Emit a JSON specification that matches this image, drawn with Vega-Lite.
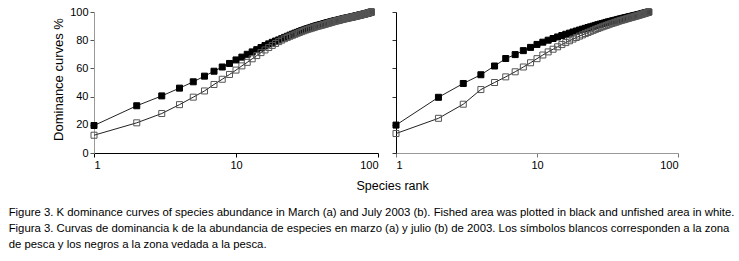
{
  "$schema": "https://vega.github.io/schema/vega-lite/v6.json",
  "background": "white",
  "padding": {"left": 8, "top": 6, "right": 5, "bottom": 5},
  "datasets": {
    "a": [
      {"area":"Fished","rank":1,"pct":19.5},{"area":"Fished","rank":2,"pct":33.5},{"area":"Fished","rank":3,"pct":40.5},{"area":"Fished","rank":4,"pct":46},{"area":"Fished","rank":5,"pct":50.5},{"area":"Fished","rank":6,"pct":54.5},{"area":"Fished","rank":7,"pct":58},{"area":"Fished","rank":8,"pct":61},{"area":"Fished","rank":9,"pct":63.5},{"area":"Fished","rank":10,"pct":66},
      {"area":"Fished","rank":11,"pct":68},{"area":"Fished","rank":12,"pct":70},{"area":"Fished","rank":13,"pct":71.7},{"area":"Fished","rank":14,"pct":73.3},{"area":"Fished","rank":15,"pct":74.8},{"area":"Fished","rank":16,"pct":76.2},{"area":"Fished","rank":17,"pct":77.4},{"area":"Fished","rank":18,"pct":78.5},{"area":"Fished","rank":19,"pct":79.4},{"area":"Fished","rank":20,"pct":80.2},
      {"area":"Fished","rank":21,"pct":81.1},{"area":"Fished","rank":22,"pct":82.0},{"area":"Fished","rank":23,"pct":82.8},{"area":"Fished","rank":24,"pct":83.6},{"area":"Fished","rank":25,"pct":84.3},{"area":"Fished","rank":26,"pct":85.0},{"area":"Fished","rank":27,"pct":85.6},{"area":"Fished","rank":28,"pct":86.2},{"area":"Fished","rank":29,"pct":86.8},{"area":"Fished","rank":30,"pct":87.3},
      {"area":"Fished","rank":31,"pct":87.8},{"area":"Fished","rank":32,"pct":88.3},{"area":"Fished","rank":33,"pct":88.7},{"area":"Fished","rank":34,"pct":89.1},{"area":"Fished","rank":35,"pct":89.5},{"area":"Fished","rank":36,"pct":89.9},{"area":"Fished","rank":37,"pct":90.3},{"area":"Fished","rank":38,"pct":90.6},{"area":"Fished","rank":39,"pct":90.9},{"area":"Fished","rank":40,"pct":91.2},
      {"area":"Fished","rank":41,"pct":91.5},{"area":"Fished","rank":42,"pct":91.8},{"area":"Fished","rank":43,"pct":92.1},{"area":"Fished","rank":44,"pct":92.4},{"area":"Fished","rank":45,"pct":92.6},{"area":"Fished","rank":46,"pct":92.9},{"area":"Fished","rank":47,"pct":93.1},{"area":"Fished","rank":48,"pct":93.4},{"area":"Fished","rank":49,"pct":93.6},{"area":"Fished","rank":50,"pct":93.8},
      {"area":"Fished","rank":51,"pct":94.0},{"area":"Fished","rank":52,"pct":94.2},{"area":"Fished","rank":53,"pct":94.4},{"area":"Fished","rank":54,"pct":94.6},{"area":"Fished","rank":55,"pct":94.8},{"area":"Fished","rank":56,"pct":95.0},{"area":"Fished","rank":57,"pct":95.2},{"area":"Fished","rank":58,"pct":95.4},{"area":"Fished","rank":59,"pct":95.55},{"area":"Fished","rank":60,"pct":95.7},
      {"area":"Fished","rank":61,"pct":95.85},{"area":"Fished","rank":62,"pct":96.0},{"area":"Fished","rank":63,"pct":96.15},{"area":"Fished","rank":64,"pct":96.3},{"area":"Fished","rank":65,"pct":96.45},{"area":"Fished","rank":66,"pct":96.6},{"area":"Fished","rank":67,"pct":96.75},{"area":"Fished","rank":68,"pct":96.9},{"area":"Fished","rank":69,"pct":97.05},{"area":"Fished","rank":70,"pct":97.2},
      {"area":"Fished","rank":71,"pct":97.35},{"area":"Fished","rank":72,"pct":97.5},{"area":"Fished","rank":73,"pct":97.65},{"area":"Fished","rank":74,"pct":97.8},{"area":"Fished","rank":75,"pct":97.9},{"area":"Fished","rank":76,"pct":98.05},{"area":"Fished","rank":77,"pct":98.2},{"area":"Fished","rank":78,"pct":98.3},{"area":"Fished","rank":79,"pct":98.45},{"area":"Fished","rank":80,"pct":98.6},
      {"area":"Fished","rank":81,"pct":98.7},{"area":"Fished","rank":82,"pct":98.85},{"area":"Fished","rank":83,"pct":99.0},{"area":"Fished","rank":84,"pct":99.1},{"area":"Fished","rank":85,"pct":99.25},{"area":"Fished","rank":86,"pct":99.4},{"area":"Fished","rank":87,"pct":99.55},{"area":"Fished","rank":88,"pct":99.7},{"area":"Fished","rank":89,"pct":99.85},{"area":"Fished","rank":90,"pct":100},
      {"area":"Unfished","rank":1,"pct":12.6},{"area":"Unfished","rank":2,"pct":21.4},{"area":"Unfished","rank":3,"pct":28},{"area":"Unfished","rank":4,"pct":34.3},{"area":"Unfished","rank":5,"pct":39.6},{"area":"Unfished","rank":6,"pct":44},{"area":"Unfished","rank":7,"pct":48.6},{"area":"Unfished","rank":8,"pct":52.3},{"area":"Unfished","rank":9,"pct":55.7},{"area":"Unfished","rank":10,"pct":58.8},
      {"area":"Unfished","rank":11,"pct":61.8},{"area":"Unfished","rank":12,"pct":64.3},{"area":"Unfished","rank":13,"pct":66.8},{"area":"Unfished","rank":14,"pct":69.1},{"area":"Unfished","rank":15,"pct":71.2},{"area":"Unfished","rank":16,"pct":73.1},{"area":"Unfished","rank":17,"pct":74.8},{"area":"Unfished","rank":18,"pct":76.3},{"area":"Unfished","rank":19,"pct":77.7},{"area":"Unfished","rank":20,"pct":79.0},
      {"area":"Unfished","rank":21,"pct":80.1},{"area":"Unfished","rank":22,"pct":81.1},{"area":"Unfished","rank":23,"pct":82.0},{"area":"Unfished","rank":24,"pct":82.8},{"area":"Unfished","rank":25,"pct":83.5},{"area":"Unfished","rank":26,"pct":84.2},{"area":"Unfished","rank":27,"pct":84.9},{"area":"Unfished","rank":28,"pct":85.5},{"area":"Unfished","rank":29,"pct":86.1},{"area":"Unfished","rank":30,"pct":86.7},
      {"area":"Unfished","rank":31,"pct":87.2},{"area":"Unfished","rank":32,"pct":87.7},{"area":"Unfished","rank":33,"pct":88.1},{"area":"Unfished","rank":34,"pct":88.5},{"area":"Unfished","rank":35,"pct":88.9},{"area":"Unfished","rank":36,"pct":89.3},{"area":"Unfished","rank":37,"pct":89.7},{"area":"Unfished","rank":38,"pct":90.0},{"area":"Unfished","rank":39,"pct":90.3},{"area":"Unfished","rank":40,"pct":90.6},
      {"area":"Unfished","rank":41,"pct":90.9},{"area":"Unfished","rank":42,"pct":91.2},{"area":"Unfished","rank":43,"pct":91.5},{"area":"Unfished","rank":44,"pct":91.8},{"area":"Unfished","rank":45,"pct":92.1},{"area":"Unfished","rank":46,"pct":92.4},{"area":"Unfished","rank":47,"pct":92.7},{"area":"Unfished","rank":48,"pct":93.0},{"area":"Unfished","rank":49,"pct":93.2},{"area":"Unfished","rank":50,"pct":93.5},
      {"area":"Unfished","rank":51,"pct":93.7},{"area":"Unfished","rank":52,"pct":93.9},{"area":"Unfished","rank":53,"pct":94.1},{"area":"Unfished","rank":54,"pct":94.35},{"area":"Unfished","rank":55,"pct":94.55},{"area":"Unfished","rank":56,"pct":94.75},{"area":"Unfished","rank":57,"pct":94.95},{"area":"Unfished","rank":58,"pct":95.15},{"area":"Unfished","rank":59,"pct":95.3},{"area":"Unfished","rank":60,"pct":95.5},
      {"area":"Unfished","rank":61,"pct":95.65},{"area":"Unfished","rank":62,"pct":95.8},{"area":"Unfished","rank":63,"pct":95.95},{"area":"Unfished","rank":64,"pct":96.1},{"area":"Unfished","rank":65,"pct":96.25},{"area":"Unfished","rank":66,"pct":96.4},{"area":"Unfished","rank":67,"pct":96.55},{"area":"Unfished","rank":68,"pct":96.7},{"area":"Unfished","rank":69,"pct":96.85},{"area":"Unfished","rank":70,"pct":97.0},
      {"area":"Unfished","rank":71,"pct":97.15},{"area":"Unfished","rank":72,"pct":97.3},{"area":"Unfished","rank":73,"pct":97.45},{"area":"Unfished","rank":74,"pct":97.6},{"area":"Unfished","rank":75,"pct":97.75},{"area":"Unfished","rank":76,"pct":97.9},{"area":"Unfished","rank":77,"pct":98.05},{"area":"Unfished","rank":78,"pct":98.2},{"area":"Unfished","rank":79,"pct":98.35},{"area":"Unfished","rank":80,"pct":98.5},
      {"area":"Unfished","rank":81,"pct":98.65},{"area":"Unfished","rank":82,"pct":98.8},{"area":"Unfished","rank":83,"pct":98.95},{"area":"Unfished","rank":84,"pct":99.1},{"area":"Unfished","rank":85,"pct":99.25},{"area":"Unfished","rank":86,"pct":99.4},{"area":"Unfished","rank":87,"pct":99.55},{"area":"Unfished","rank":88,"pct":99.7},{"area":"Unfished","rank":89,"pct":99.85},{"area":"Unfished","rank":90,"pct":100}
    ],
    "b": [
      {"area":"Fished","rank":1,"pct":19.8},{"area":"Fished","rank":2,"pct":39.5},{"area":"Fished","rank":3,"pct":49.3},{"area":"Fished","rank":4,"pct":55.5},{"area":"Fished","rank":5,"pct":61.7},{"area":"Fished","rank":6,"pct":67},{"area":"Fished","rank":7,"pct":69.8},{"area":"Fished","rank":8,"pct":72.6},{"area":"Fished","rank":9,"pct":74.9},{"area":"Fished","rank":10,"pct":77},
      {"area":"Fished","rank":11,"pct":78.6},{"area":"Fished","rank":12,"pct":80.0},{"area":"Fished","rank":13,"pct":81.2},{"area":"Fished","rank":14,"pct":82.3},{"area":"Fished","rank":15,"pct":83.3},{"area":"Fished","rank":16,"pct":84.2},{"area":"Fished","rank":17,"pct":85.0},{"area":"Fished","rank":18,"pct":85.8},{"area":"Fished","rank":19,"pct":86.5},{"area":"Fished","rank":20,"pct":87.2},
      {"area":"Fished","rank":21,"pct":87.8},{"area":"Fished","rank":22,"pct":88.4},{"area":"Fished","rank":23,"pct":89.0},{"area":"Fished","rank":24,"pct":89.5},{"area":"Fished","rank":25,"pct":90.0},{"area":"Fished","rank":26,"pct":90.5},{"area":"Fished","rank":27,"pct":91.0},{"area":"Fished","rank":28,"pct":91.4},{"area":"Fished","rank":29,"pct":91.8},{"area":"Fished","rank":30,"pct":92.2},
      {"area":"Fished","rank":31,"pct":92.6},{"area":"Fished","rank":32,"pct":93.0},{"area":"Fished","rank":33,"pct":93.3},{"area":"Fished","rank":34,"pct":93.6},{"area":"Fished","rank":35,"pct":93.9},{"area":"Fished","rank":36,"pct":94.2},{"area":"Fished","rank":37,"pct":94.5},{"area":"Fished","rank":38,"pct":94.8},{"area":"Fished","rank":39,"pct":95.1},{"area":"Fished","rank":40,"pct":95.4},
      {"area":"Fished","rank":41,"pct":95.6},{"area":"Fished","rank":42,"pct":95.9},{"area":"Fished","rank":43,"pct":96.1},{"area":"Fished","rank":44,"pct":96.35},{"area":"Fished","rank":45,"pct":96.6},{"area":"Fished","rank":46,"pct":96.8},{"area":"Fished","rank":47,"pct":97.0},{"area":"Fished","rank":48,"pct":97.25},{"area":"Fished","rank":49,"pct":97.45},{"area":"Fished","rank":50,"pct":97.65},
      {"area":"Fished","rank":51,"pct":97.85},{"area":"Fished","rank":52,"pct":98.05},{"area":"Fished","rank":53,"pct":98.25},{"area":"Fished","rank":54,"pct":98.45},{"area":"Fished","rank":55,"pct":98.65},{"area":"Fished","rank":56,"pct":98.85},{"area":"Fished","rank":57,"pct":99.1},{"area":"Fished","rank":58,"pct":99.3},{"area":"Fished","rank":59,"pct":99.5},{"area":"Fished","rank":60,"pct":99.65},
      {"area":"Fished","rank":61,"pct":99.85},{"area":"Fished","rank":62,"pct":100},
      {"area":"Unfished","rank":1,"pct":13.8},{"area":"Unfished","rank":2,"pct":24.6},{"area":"Unfished","rank":3,"pct":34.6},{"area":"Unfished","rank":4,"pct":45},{"area":"Unfished","rank":5,"pct":50},{"area":"Unfished","rank":6,"pct":54},{"area":"Unfished","rank":7,"pct":57.6},{"area":"Unfished","rank":8,"pct":61},{"area":"Unfished","rank":9,"pct":64},{"area":"Unfished","rank":10,"pct":66.9},
      {"area":"Unfished","rank":11,"pct":69.5},{"area":"Unfished","rank":12,"pct":71.7},{"area":"Unfished","rank":13,"pct":73.6},{"area":"Unfished","rank":14,"pct":75.3},{"area":"Unfished","rank":15,"pct":76.9},{"area":"Unfished","rank":16,"pct":78.3},{"area":"Unfished","rank":17,"pct":79.6},{"area":"Unfished","rank":18,"pct":80.8},{"area":"Unfished","rank":19,"pct":81.9},{"area":"Unfished","rank":20,"pct":82.9},
      {"area":"Unfished","rank":21,"pct":83.8},{"area":"Unfished","rank":22,"pct":84.7},{"area":"Unfished","rank":23,"pct":85.5},{"area":"Unfished","rank":24,"pct":86.3},{"area":"Unfished","rank":25,"pct":87.0},{"area":"Unfished","rank":26,"pct":87.7},{"area":"Unfished","rank":27,"pct":88.3},{"area":"Unfished","rank":28,"pct":88.9},{"area":"Unfished","rank":29,"pct":89.5},{"area":"Unfished","rank":30,"pct":90.0},
      {"area":"Unfished","rank":31,"pct":90.5},{"area":"Unfished","rank":32,"pct":91.0},{"area":"Unfished","rank":33,"pct":91.5},{"area":"Unfished","rank":34,"pct":91.9},{"area":"Unfished","rank":35,"pct":92.3},{"area":"Unfished","rank":36,"pct":92.7},{"area":"Unfished","rank":37,"pct":93.1},{"area":"Unfished","rank":38,"pct":93.5},{"area":"Unfished","rank":39,"pct":93.9},{"area":"Unfished","rank":40,"pct":94.2},
      {"area":"Unfished","rank":41,"pct":94.5},{"area":"Unfished","rank":42,"pct":94.8},{"area":"Unfished","rank":43,"pct":95.1},{"area":"Unfished","rank":44,"pct":95.4},{"area":"Unfished","rank":45,"pct":95.7},{"area":"Unfished","rank":46,"pct":96.0},{"area":"Unfished","rank":47,"pct":96.25},{"area":"Unfished","rank":48,"pct":96.5},{"area":"Unfished","rank":49,"pct":96.75},{"area":"Unfished","rank":50,"pct":97.0},
      {"area":"Unfished","rank":51,"pct":97.25},{"area":"Unfished","rank":52,"pct":97.5},{"area":"Unfished","rank":53,"pct":97.75},{"area":"Unfished","rank":54,"pct":98.0},{"area":"Unfished","rank":55,"pct":98.25},{"area":"Unfished","rank":56,"pct":98.5},{"area":"Unfished","rank":57,"pct":98.75},{"area":"Unfished","rank":58,"pct":99.0},{"area":"Unfished","rank":59,"pct":99.25},{"area":"Unfished","rank":60,"pct":99.5},
      {"area":"Unfished","rank":61,"pct":99.75},{"area":"Unfished","rank":62,"pct":100}
    ]
  },
  "title": {
    "text": [
      "Figure 3. K dominance curves of species abundance in March (a) and July 2003 (b). Fished area was plotted in black and unfished area in white.",
      "Figura 3. Curvas de dominancia k de la abundancia de especies en marzo (a) y julio (b) de 2003. Los símbolos blancos corresponden a la zona",
      "de pesca y los negros a la zona vedada a la pesca."
    ],
    "orient": "bottom",
    "anchor": "start",
    "dx": -44,
    "offset": 14,
    "font": "Liberation Sans",
    "fontSize": 11.35,
    "fontWeight": "normal",
    "lineHeight": 16,
    "color": "#000"
  },
  "vconcat": [
    {
      "title": {
        "text": "Species  rank",
        "orient": "bottom",
        "anchor": "middle",
        "dx": 27,
        "offset": 10,
        "font": "Liberation Sans",
        "fontSize": 12.5,
        "fontWeight": "normal",
        "color": "#000"
      },
      "spacing": 12,
      "hconcat": [
        {
          "width": 284,
          "height": 141,
          "data": {"name": "a"},
          "encoding": {
            "x": {"field": "rank", "type": "quantitative", "scale": {"type": "log", "domain": [1, 100]},
                  "axis": {"values": [1, 10, 100], "title": null, "domainColor": "#000", "tickColor": "#000"}},
            "y": {"field": "pct", "type": "quantitative", "scale": {"domain": [0, 100]},
                  "axis": {"values": [0, 20, 40, 60, 80, 100], "title": "Dominance curves %", "titleY": 67, "domainColor": "#999", "tickColor": "#555"}}
          },
          "layer": [
            {"mark": {"type": "line", "color": "#222", "strokeWidth": 1}, "encoding": {"detail": {"field": "area"}}},
            {"mark": {"type": "point", "shape": "square", "size": 36, "strokeWidth": 1, "opacity": 1},
             "encoding": {
               "fill": {"field": "area", "type": "nominal", "scale": {"domain": ["Fished", "Unfished"], "range": ["#000000", "rgba(255,255,255,0)"]}, "legend": null},
               "stroke": {"field": "area", "type": "nominal", "scale": {"domain": ["Fished", "Unfished"], "range": ["#000000", "#555555"]}, "legend": null}
             }}
          ]
        },
        {
          "width": 282,
          "height": 141,
          "data": {"name": "b"},
          "encoding": {
            "x": {"field": "rank", "type": "quantitative", "scale": {"type": "log", "domain": [1, 100]},
                  "axis": {"values": [1, 10, 100], "title": null, "domainColor": "#999", "tickColor": "#777"}},
            "y": {"field": "pct", "type": "quantitative", "scale": {"domain": [0, 100]},
                  "axis": {"values": [0, 20, 40, 60, 80, 100], "title": null, "labels": false, "domainColor": "#000", "tickColor": "#333"}}
          },
          "layer": [
            {"mark": {"type": "line", "color": "#222", "strokeWidth": 1}, "encoding": {"detail": {"field": "area"}}},
            {"mark": {"type": "point", "shape": "square", "size": 36, "strokeWidth": 1, "opacity": 1},
             "encoding": {
               "fill": {"field": "area", "type": "nominal", "scale": {"domain": ["Fished", "Unfished"], "range": ["#000000", "rgba(255,255,255,0)"]}, "legend": null},
               "stroke": {"field": "area", "type": "nominal", "scale": {"domain": ["Fished", "Unfished"], "range": ["#000000", "#555555"]}, "legend": null}
             }}
          ]
        }
      ],
      "resolve": {"scale": {"fill": "independent", "stroke": "independent"}}
    }
  ],
  "config": {
    "view": {"stroke": null},
    "axis": {
      "grid": false,
      "tickSize": 4,
      "labelFont": "Liberation Sans",
      "labelFontSize": 11,
      "labelColor": "#000",
      "labelPadding": 2,
      "titleFont": "Liberation Sans",
      "titleFontSize": 13,
      "titleFontWeight": "normal",
      "titleColor": "#000",
      "titlePadding": 4
    }
  }
}
